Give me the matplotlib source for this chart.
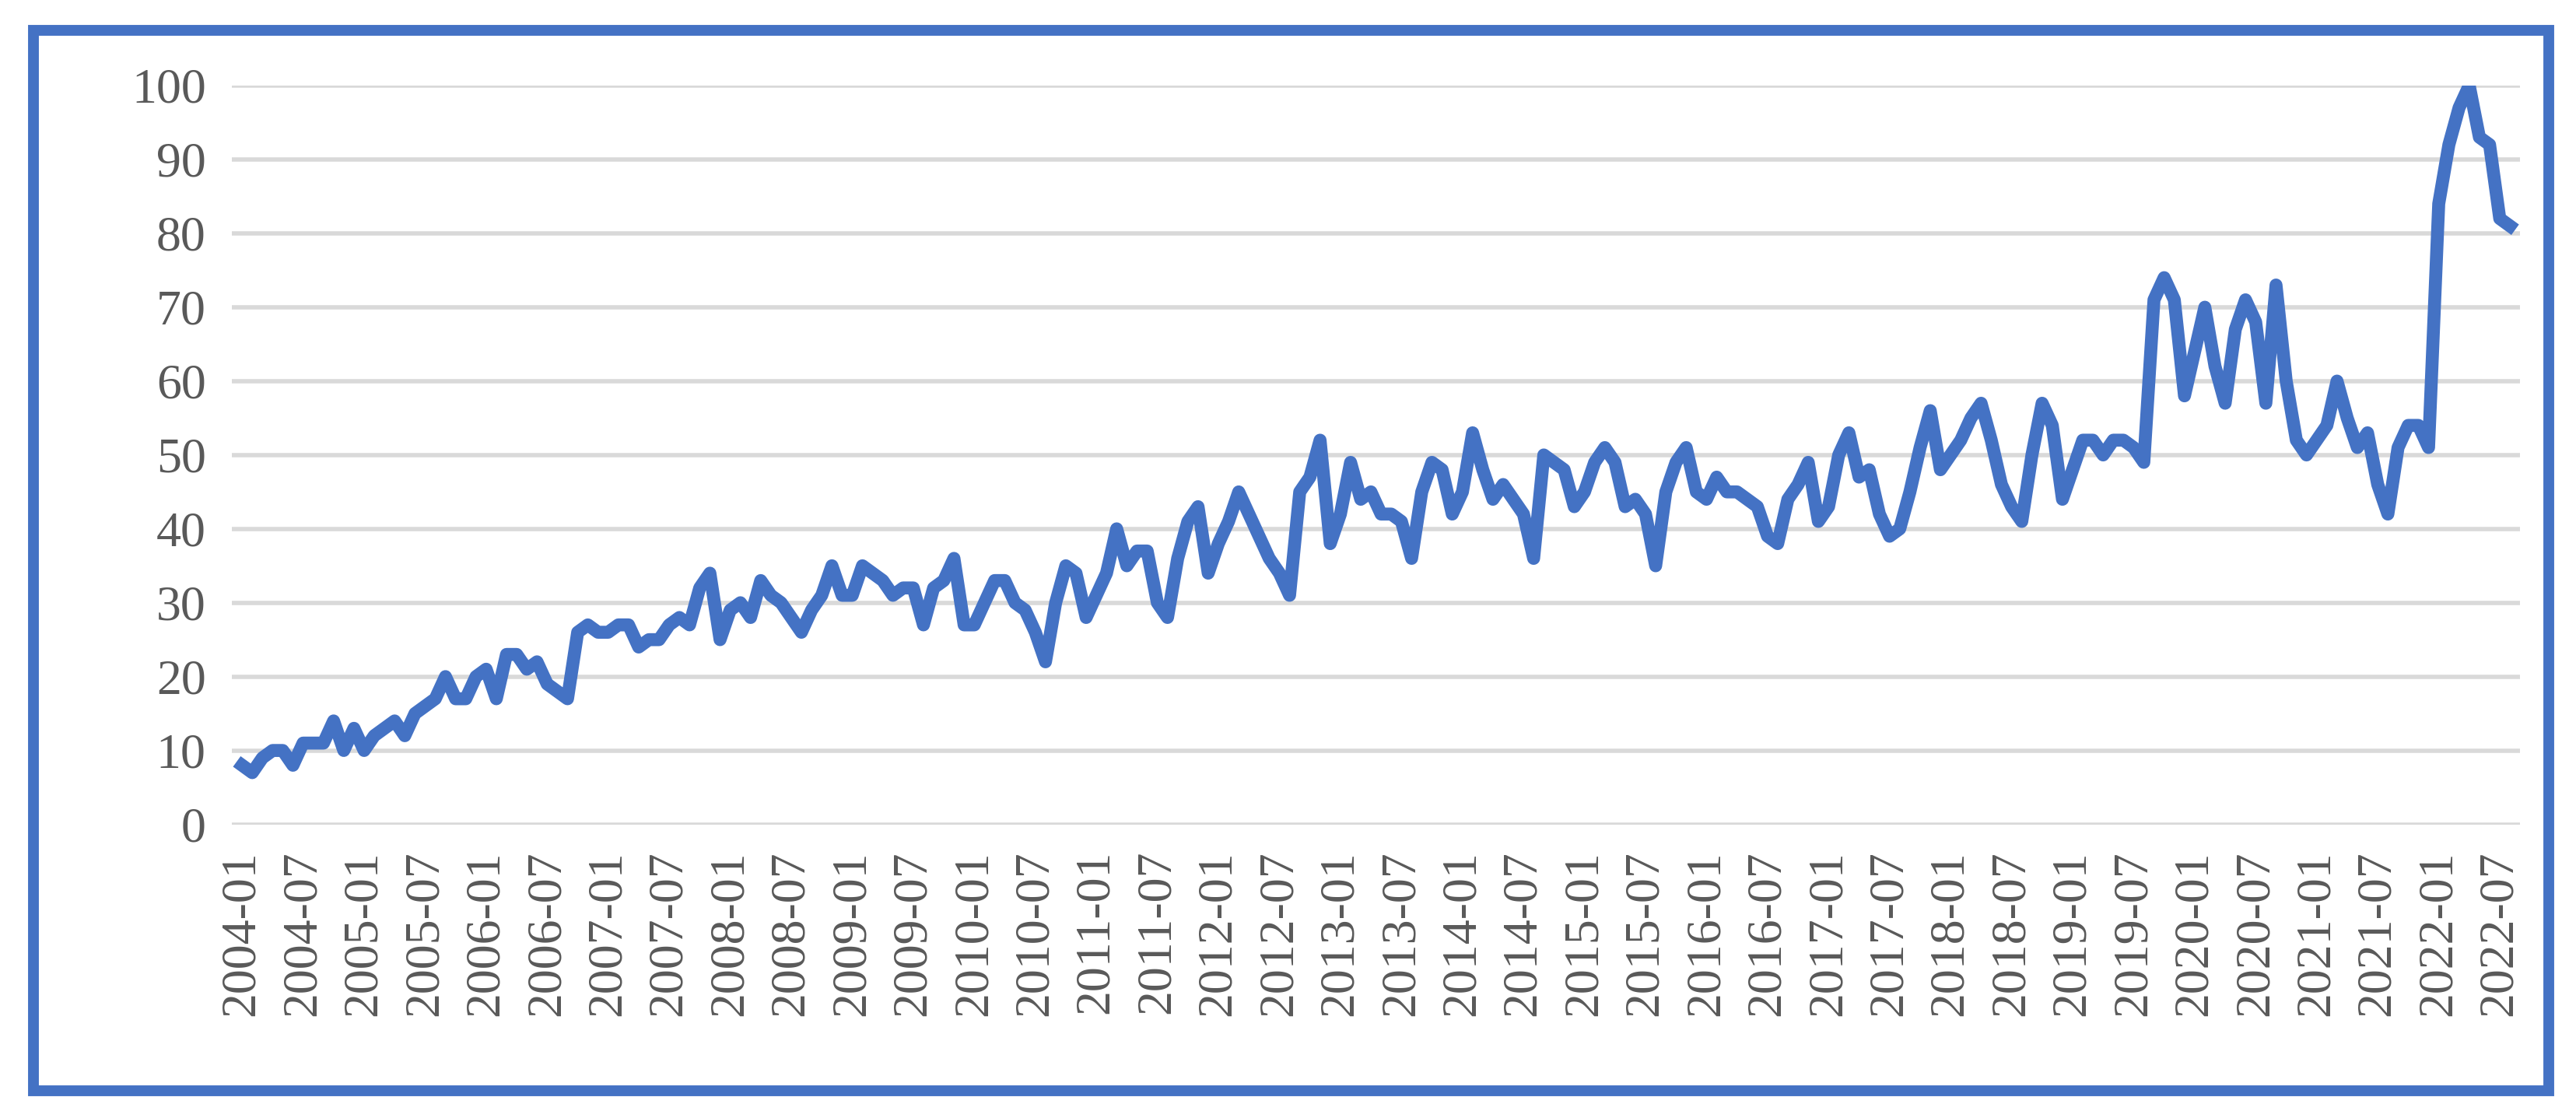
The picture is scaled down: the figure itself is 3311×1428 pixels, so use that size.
import matplotlib
matplotlib.use('Agg')
import matplotlib.pyplot as plt
from matplotlib.patches import Rectangle
import numpy as np

years = list(range(2004, 2023))
values_by_year = {
    2004: [8, 7, 9, 10, 10, 8, 11, 11, 11, 14, 10, 13],
    2005: [10, 12, 13, 14, 12, 15, 16, 17, 20, 17, 17, 20],
    2006: [21, 17, 23, 23, 21, 22, 19, 18, 17, 26, 27, 26],
    2007: [26, 27, 27, 24, 25, 25, 27, 28, 27, 32, 34, 25],
    2008: [29, 30, 28, 33, 31, 30, 28, 26, 29, 31, 35, 31],
    2009: [31, 35, 34, 33, 31, 32, 32, 27, 32, 33, 36, 27],
    2010: [27, 30, 33, 33, 30, 29, 26, 22, 30, 35, 34, 28],
    2011: [31, 34, 40, 35, 37, 37, 30, 28, 36, 41, 43, 34],
    2012: [38, 41, 45, 42, 39, 36, 34, 31, 45, 47, 52, 38],
    2013: [42, 49, 44, 45, 42, 42, 41, 36, 45, 49, 48, 42],
    2014: [45, 53, 48, 44, 46, 44, 42, 36, 50, 49, 48, 43],
    2015: [45, 49, 51, 49, 43, 44, 42, 35, 45, 49, 51, 45],
    2016: [44, 47, 45, 45, 44, 43, 39, 38, 44, 46, 49, 41],
    2017: [43, 50, 53, 47, 48, 42, 39, 40, 45, 51, 56, 48],
    2018: [50, 52, 55, 57, 52, 46, 43, 41, 50, 57, 54, 44],
    2019: [48, 52, 52, 50, 52, 52, 51, 49, 71, 74, 71, 58],
    2020: [64, 70, 62, 57, 67, 71, 68, 57, 73, 60, 52, 50],
    2021: [52, 54, 60, 55, 51, 53, 46, 42, 51, 54, 54, 51],
    2022: [84, 92, 97, 100, 93, 92, 82, 81],
}

labels = []
values = []
for y in years:
    for m, v in enumerate(values_by_year[y]):
        labels.append(f"{y}-{m+1:02d}")
        values.append(v)
x = np.arange(len(values))

plt.rcParams['font.family'] = ['Liberation Serif', 'DejaVu Serif']

fig = plt.figure(figsize=(16.56, 7.14), dpi=200)
ax = fig.add_axes([0.09, 0.258, 0.888, 0.665])

ax.plot(x, values, color='#4472C4', linewidth=6, solid_joinstyle='round')

ax.set_ylim(0, 100)
ax.set_yticks(range(0, 101, 10))
ax.set_xlim(-1, len(values))
ticks = x[::6]
ax.set_xticks(ticks)
ax.set_xticklabels([labels[i] for i in ticks], rotation=90)
ax.tick_params(axis='both', length=0, labelsize=23, colors='#595959', pad=12)
ax.grid(axis='y', color='#d9d9d9', linewidth=2)
ax.set_axisbelow(True)
for s in ax.spines.values():
    s.set_visible(False)

# outer blue frame
fig.patches.append(Rectangle((0.013, 0.018), 0.976, 0.955, transform=fig.transFigure,
                             fill=False, edgecolor='#4472C4', linewidth=5))

fig.savefig('out.png')
plt.close(fig)
